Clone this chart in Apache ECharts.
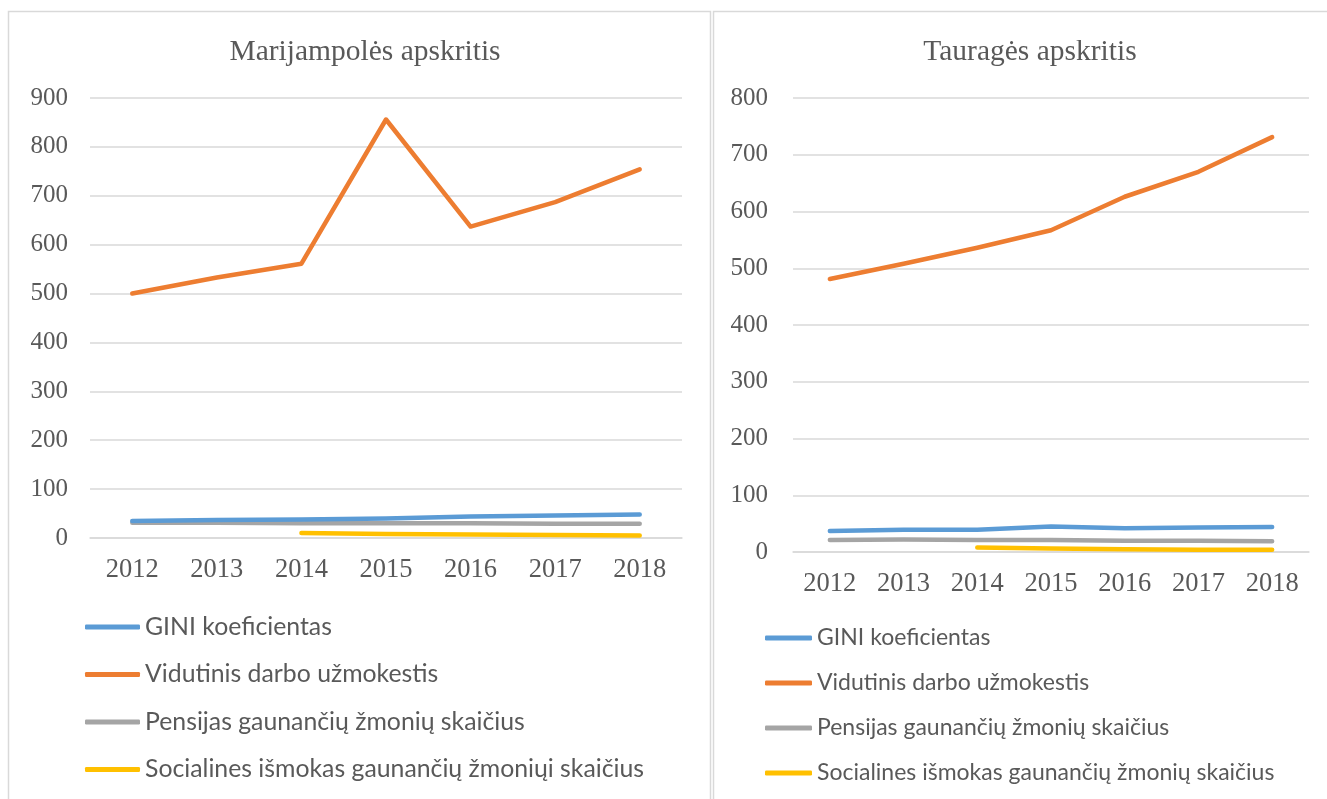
<!DOCTYPE html>
<html><head><meta charset="utf-8">
<script src="https://cdn.jsdelivr.net/npm/echarts@6/dist/echarts.min.js"></script>
<style>html,body{margin:0;padding:0;background:#fff}#c{width:1327px;height:799px}</style>
</head><body><div id="c"></div>
<script>
const years = ['2012','2013','2014','2015','2016','2017','2018'];
const titleLeft = 'Marijampolės apskritis';
const titleRight = 'Tauragės apskritis';
const namesLeft = ['GINI koeficientas','Vidutinis darbo užmokestis','Pensijas gaunančių žmonių skaičius','Socialines išmokas gaunančių žmoniųi skaičius'];
const namesRight = ['GINI koeficientas ','Vidutinis darbo užmokestis ','Pensijas gaunančių žmonių skaičius ','Socialines išmokas gaunančių žmonių skaičius'];
// Marijampolės
const giniL = [35, 37, 38, 40, 44, 46, 48];
const wageL = [500, 533, 561, 856, 637, 687, 754];
const pensL = [31, 31, 30, 30, 30, 29, 29];
const socL = [null, null, 10, 8, 7, 6, 5];
// Tauragės
const giniR = [37, 39, 39, 45, 42, 43, 44];
const wageR = [481, 508, 536, 567, 626, 670, 731];
const pensR = [21, 22, 21, 21, 20, 20, 19];
const socR = [null, null, 8, 6, 5, 4, 4];

const colors = ['#5B9BD5','#ED7D31','#A5A5A5','#FFC000'];
const serif = '"Liberation Serif", "Times New Roman", serif';
const sans = 'Lato, "Open Sans", sans-serif';
const txt = '#595959';

function mkSeries(names, data, idx) {
  return names.map((n, i) => ({
    name: n, type: 'line', xAxisIndex: idx, yAxisIndex: idx,
    data: data[i], showSymbol: false, symbol: 'none', connectNulls: false,
    lineStyle: {color: colors[i], width: 4.5, cap: 'round', join: 'round'},
    itemStyle: {color: colors[i]}, z: i === 0 ? 5 : 3
  }));
}
const chart = echarts.init(document.getElementById('c'), null, {renderer: 'canvas'});
const axisX = (gi) => ({
  type: 'category', gridIndex: gi, data: years, boundaryGap: true,
  axisLine: {show: true, lineStyle: {color: '#d9d9d9', width: 1.5}},
  axisTick: {show: false},
  axisLabel: {color: txt, fontFamily: serif, fontSize: 26.5, margin: 19}
});
const axisY = (gi, max, m) => ({
  type: 'value', gridIndex: gi, min: 0, max: max, interval: 100,
  axisLine: {show: false}, axisTick: {show: false},
  splitLine: {lineStyle: {color: '#d9d9d9', width: 1.5}},
  axisLabel: {color: txt, fontFamily: serif, fontSize: 25, margin: m}
});
chart.setOption({
  animation: false,
  title: [
    {text: titleLeft, left: 360, top: 32, textAlign: 'center', textStyle: {fontFamily: serif, fontSize: 29.5, fontWeight: 'normal', color: txt}},
    {text: titleRight, left: 1025, top: 32, textAlign: 'center', textStyle: {fontFamily: serif, fontSize: 29.5, fontWeight: 'normal', color: txt}}
  ],
  grid: [
    {left: 90, top: 98, width: 592, height: 440},
    {left: 793, top: 98, width: 516, height: 454}
  ],
  xAxis: [axisX(0), axisX(1)],
  yAxis: [axisY(0, 900, 22), axisY(1, 800, 25)],
  legend: [
    {data: namesLeft, orient: 'vertical', left: 80, top: 608, itemWidth: 55, itemHeight: 5, itemGap: 19.5,
     icon: 'roundRect', textStyle: {fontFamily: sans, fontSize: 24.8, color: txt, lineHeight: 28}},
    {data: namesRight, orient: 'vertical', left: 760, top: 620, itemWidth: 47, itemHeight: 5, itemGap: 19,
     icon: 'roundRect', textStyle: {fontFamily: sans, fontSize: 23, color: txt, lineHeight: 26}}
  ],
  graphic: [
    {type: 'rect', shape: {x: 8.5, y: 11.5, width: 702, height: 800}, style: {fill: null, stroke: '#d9d9d9', lineWidth: 1.5}, silent: true},
    {type: 'rect', shape: {x: 713.5, y: 11.5, width: 700, height: 800}, style: {fill: null, stroke: '#d9d9d9', lineWidth: 1.5}, silent: true}
  ],
  series: [
    ...mkSeries(namesLeft, [giniL, wageL, pensL, socL], 0),
    ...mkSeries(namesRight, [giniR, wageR, pensR, socR], 1)
  ]
});
</script></body></html>
